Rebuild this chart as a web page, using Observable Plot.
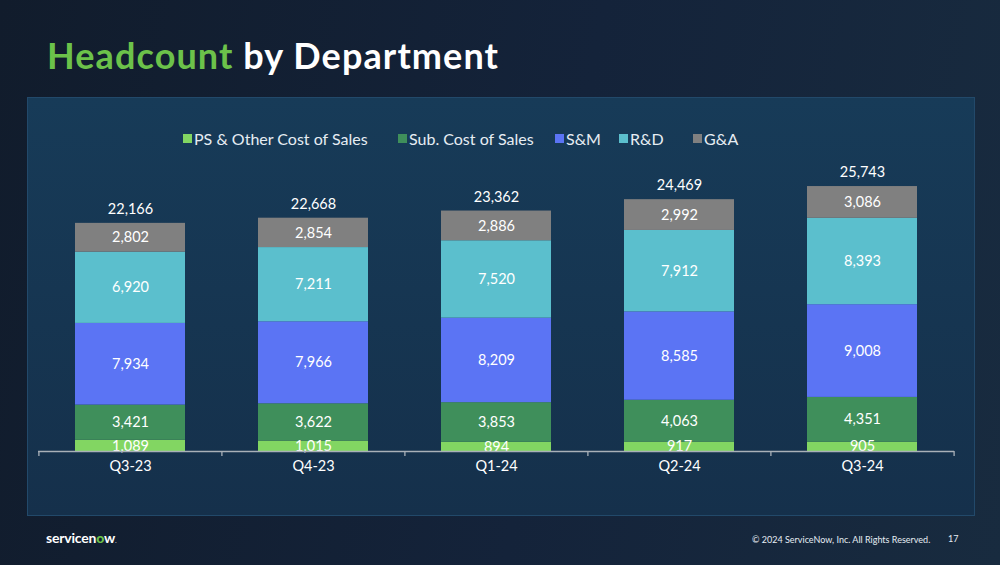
<!DOCTYPE html>
<html><head><meta charset="utf-8">
<script src="https://cdn.jsdelivr.net/npm/d3@7"></script>
<script src="https://cdn.jsdelivr.net/npm/@observablehq/plot@0.6"></script>
<style>
html,body{margin:0;padding:0;}
body{width:1000px;height:565px;position:relative;overflow:hidden;
 background:linear-gradient(100deg,#111c2c 0%,#14233a 55%,#182b3f 100%);font-family:Lato,"Open Sans",sans-serif;}
#title{position:absolute;left:47px;top:33px;font-size:36px;font-weight:700;color:#fff;letter-spacing:1.1px;white-space:nowrap;}
#title .g{color:#6cc24a;}
#panel{position:absolute;left:27px;top:97px;width:948px;height:419px;background:linear-gradient(180deg,#173b58 0%,#15304b 100%);border:1px solid #22496a;box-sizing:border-box;}
#legend{position:absolute;left:0;width:1000px;top:129px;height:20px;font-size:16px;color:#e6edf3;}
#legend span.item{position:absolute;top:0;display:flex;align-items:center;white-space:nowrap;}
#legend i{display:inline-block;width:9px;height:9px;margin-right:2px;}
#chart{position:absolute;left:0;top:150px;}
#logo{position:absolute;left:46px;top:529px;font-size:14px;font-weight:700;color:#fff;letter-spacing:-0.2px;}
#logo b{color:#6cc24a;}
#copy{position:absolute;left:752px;top:534px;font-size:9px;color:#e6edf3;white-space:nowrap;}
#page{position:absolute;left:948px;top:533px;font-size:9px;color:#e6edf3;}
</style></head>
<body>
<div id="title"><span class="g">Headcount</span> by Department</div>
<div id="panel"></div>
<div id="legend"></div>
<div id="chart"></div>
<div id="logo">servicen<b>o</b>w<span style="font-size:5px">.</span></div>
<div id="copy">© 2024 ServiceNow, Inc. All Rights Reserved.</div>
<div id="page">17</div>
<script>
const quarters = ["Q3-23","Q4-23","Q1-24","Q2-24","Q3-24"];
const departments = ["PS & Other Cost of Sales","Sub. Cost of Sales","S&M","R&D","G&A"];
const colors = ["#82d662","#3f8f5b","#5b74f4","#5bbfcd","#808080"];
const psOther = [1089,1015,894,917,905];
const subCost = [3421,3622,3853,4063,4351];
const sm = [7934,7966,8209,8585,9008];
const rd = [6920,7211,7520,7912,8393];
const ga = [2802,2854,2886,2992,3086];
const totals = [22166,22668,23362,24469,25743];

const series = [psOther, subCost, sm, rd, ga];
const rows = [];
departments.forEach((dep, j) => quarters.forEach((q, i) => rows.push({quarter: q, dept: dep, value: series[j][i]})));
const totalRows = quarters.map((q, i) => ({quarter: q, total: totals[i]}));

// legend (layout positions of the swatches)
const legendLeft = [183, 398, 555, 619, 693];
const leg = document.getElementById("legend");
departments.forEach((d, j) => {
  const s = document.createElement("span"); s.className = "item";
  s.style.left = legendLeft[j] + "px";
  s.innerHTML = `<i style="background:${colors[j]}"></i>${d.replace(/&/g,"&amp;")}`;
  leg.appendChild(s);
});

const fmt = d3.format(",");
const W = 1000, H = 340, mT = 33.4, mB = 39, mL = 38, mR = 46;
const step = (W - mL - mR) / quarters.length;

const plot = Plot.plot({
  width: W, height: H,
  marginTop: mT, marginBottom: mB, marginLeft: mL, marginRight: mR,
  style: {background: "transparent", fontFamily: "Lato, 'Open Sans', sans-serif", overflow: "visible"},
  x: {domain: quarters, paddingInner: 0.4, paddingOuter: 0.2, axis: null},
  y: {domain: [0, 26000], axis: null},
  color: {domain: departments, range: colors},
  marks: [
    Plot.barY(rows, {x: "quarter", y: "value", fill: "dept", order: departments}),
    Plot.text(rows, Plot.stackY({x: "quarter", y: "value", z: "dept", order: departments, text: d => fmt(d.value), fill: "#ffffff", fontSize: 14.5})),
    Plot.text(totalRows, {x: "quarter", y: "total", text: d => fmt(d.total), dy: -14, fill: "#ffffff", fontSize: 14.5}),
    Plot.ruleY([0], {stroke: "#a9b0b8", strokeWidth: 1.3}),
    Plot.ruleX(quarters, {x: d => d, dx: -step / 2, stroke: "#a9b0b8", strokeWidth: 1.3, insetTop: H - mT - mB, insetBottom: -5}),
    Plot.ruleX([quarters[quarters.length - 1]], {x: d => d, dx: step / 2, stroke: "#a9b0b8", strokeWidth: 1.3, insetTop: H - mT - mB, insetBottom: -5}),
    Plot.text(quarters, {x: d => d, text: d => d, frameAnchor: "bottom", lineAnchor: "middle", dy: 15, fill: "#ffffff", fontSize: 14.5})
  ]
});
document.getElementById("chart").appendChild(plot);
</script>
</body></html>
